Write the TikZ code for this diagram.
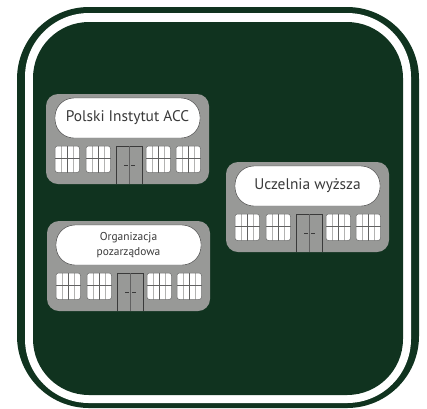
\documentclass[tikz,border=0pt]{standalone}
\usepackage{fontspec}
\setmainfont{PT Sans}
\definecolor{dkgreen}{HTML}{10331F}
\definecolor{wallgray}{HTML}{989997}
\definecolor{inkgray}{HTML}{3A3A3A}
\tikzset{
  x=1pt,y=-1pt,
  panel/.style={fill=dkgreen,draw=none},
  ringline/.style={fill=white,draw=none},
  wall/.style={fill=wallgray,draw=none,rounded corners=12pt},
  sign/.style={fill=white,draw=inkgray,line width=.4pt,rounded corners=19pt},
  bar/.style={draw=inkgray!80,line width=.45pt},
  softbar/.style={draw=wallgray!75,line width=.6pt},
  doorleaf/.style={fill=wallgray,draw=inkgray,line width=.5pt},
  signtext/.style={text=inkgray,align=center,inner sep=0pt,font=\fontsize{#1}{#1}\selectfont},
}
\newcommand{\pane}[2]{%
  \fill[white,rounded corners=2.5pt] (#1,#2) rectangle ++(24.5,26.5);
  \draw[softbar] (#1+6,#2) -- ++(0,26.5) (#1+18.5,#2) -- ++(0,26.5);
  \draw[bar] (#1+12.5,#2) -- ++(0,26.5);
  \draw[bar] (#1,#2+12.5) -- ++(24.5,0);
  \draw[wallgray!70!black,line width=.5pt,rounded corners=2.5pt] (#1,#2) rectangle ++(24.5,26.5);
}
\newcommand{\building}[4]{%
  \begin{scope}[shift={(#1,#2)}]
    \path[wall] (0,0) rectangle (163,90);
    \path[sign] (9,4) rectangle (154,44);
    \node[signtext=#3] at (81.5,24) {#4};
    \pane{9}{52}
    \pane{40}{52}
    \pane{100}{52}
    \pane{130}{52}
    \draw[doorleaf] (70,90) -- (70,52) -- (96.5,52) -- (96.5,90);
    \draw[bar] (83.2,52) -- (83.2,90);
    \draw[inkgray,line width=.5pt] (78,71) -- (81.5,71) (85,71) -- (88.5,71);
  \end{scope}
}
\begin{document}
\begin{tikzpicture}
\useasboundingbox (0,0) rectangle (427,408);
\fill[white] (0,0) rectangle (427,408);
\path[panel,rounded corners=72pt] (17,7) rectangle (419,408);
\path[ringline,rounded corners=64pt] (25,13) rectangle (411,403);
\path[panel,rounded corners=56pt] (33,22) rectangle (403,395);
\building{46}{94}{15.4}{Polski Instytut ACC}
\building{47}{221}{11.4}{Organizacja\\[4pt]pozarządowa}
\building{226}{162}{15.4}{Uczelnia wyższa}
\end{tikzpicture}
\end{document}
